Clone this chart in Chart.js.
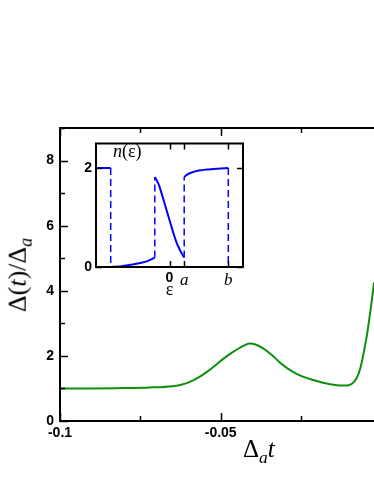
<!DOCTYPE html>
<html>
<head>
<meta charset="utf-8">
<script src="https://cdn.jsdelivr.net/npm/chart.js@4.4.1/dist/chart.umd.min.js"></script>
<style>
  html, body { margin: 0; background: #fff; overflow: hidden; }
  #wrap { position: relative; width: 374px; height: 484px; overflow: hidden; }
  canvas { position: absolute; }
  .ttl { position: absolute; font-family: "Liberation Serif", "DejaVu Serif", serif; line-height: 1; white-space: nowrap; color: #000; }
  .ttl sub { font-size: 70%; vertical-align: -0.35em; }
  #ytitle { font-size: 26px; left: 20px; top: 275px; transform: translate(-50%, -50%) rotate(-90deg); }
  #xtitle { font-size: 25px; left: 243px; top: 436px; }
  #nlabel { font-size: 18px; left: 113px; top: 142px; }
</style>
</head>
<body>
<div id="wrap">
  <canvas id="mainChart" width="374" height="484" style="left:0;top:0"></canvas>
  <canvas id="insetChart" width="187" height="170" style="left:66px;top:131px"></canvas>
  <div class="ttl" id="ytitle">Δ(<i>t</i>)/Δ<sub><i>a</i></sub></div>
  <div class="ttl" id="xtitle">Δ<sub><i>a</i></sub><i>t</i></div>
  <div class="ttl" id="nlabel"><i>n</i>(ε)</div>
</div>
<script>
// ==============================
// Data
// ==============================

// main curve: Delta(t)/Delta_a against Delta_a t
// (the original figure is cut at the right edge, just short of t = 0)
const tMin = -0.1;
const tMaxVisible = -0.0023;
const tValues = [-0.1, -0.09, -0.08, -0.072, -0.065, -0.062, -0.0596, -0.057, -0.0544, -0.0515,
    -0.0493, -0.0465, -0.044, -0.0425, -0.0409, -0.0392, -0.0368, -0.034, -0.0316, -0.029,
    -0.0264, -0.0238, -0.0212, -0.0185, -0.016, -0.0138, -0.0118, -0.0102, -0.0085, -0.0073,
    -0.0064, -0.0054, -0.0044, -0.0036, -0.0028, -0.0023, -0.0015];
const deltaValues = [1.0, 1.0, 1.01, 1.03, 1.07, 1.12, 1.2, 1.33, 1.5, 1.72,
    1.9, 2.1, 2.25, 2.33, 2.38, 2.35, 2.23, 2.02, 1.8, 1.6,
    1.45, 1.34, 1.26, 1.18, 1.13, 1.1, 1.09, 1.1, 1.2, 1.4,
    1.68, 2.15, 2.7, 3.25, 3.84, 4.26, 5.2];

// inset: occupation n(eps), solid pieces
const epsOuterLeft = [-5, -4];
const nOuterLeft = [2, 2];
const epsLow = [-4, -3.5, -3, -2.5, -2, -1.5, -1];
const nLow = [0, 0.01, 0.03, 0.05, 0.08, 0.12, 0.19];
const epsMid = [-1, -0.75, -0.5, -0.25, 0, 0.25, 0.5, 0.75, 1];
const nMid = [1.82, 1.68, 1.45, 1.2, 0.95, 0.7, 0.48, 0.32, 0.19];
const epsHigh = [1, 1.2, 1.5, 2, 2.5, 3, 3.5, 4];
const nHigh = [1.82, 1.87, 1.91, 1.95, 1.97, 1.98, 1.99, 2.0];
const epsOuterRight = [4, 5];
const nOuterRight = [0, 0];

// inset: dashed jumps at -b, -a, a, b
const jumpEps = [-4, -1, 1, 4];
const jumpFrom = [2, 0.19, 0.19, 2];
const jumpTo = [0, 1.82, 1.82, 0];

// inset tick labels
const insetXTicks = [0, 1, 4];
const insetXLabels = ["0", "a", "b"];
const insetYTicks = [0, 2];

const sansBold = { family: "'Liberation Sans', Arial, sans-serif", size: 14, weight: "bold" };
const serifItalic = { family: "'Liberation Serif', serif", size: 17, style: "italic", weight: "normal" };

Chart.defaults.color = "#000";

function toPoints(xs, ys) {
    return xs.map((x, i) => ({ x: x, y: ys[i] }));
}

// ==============================
// Frame with inward ticks
// ==============================
const framePlugin = {
    id: "frame",
    beforeDraw(chart) {
        const a = chart.chartArea;
        const ctx = chart.ctx;
        ctx.save();
        ctx.fillStyle = "#fff";
        ctx.fillRect(a.left, a.top, a.right - a.left, a.bottom - a.top);
        ctx.restore();
    },
    afterDraw(chart, args, opts) {
        const { ctx, chartArea: a, scales } = chart;
        ctx.save();
        ctx.strokeStyle = "#000";
        ctx.lineWidth = opts.tickWidth;

        scales.x.ticks.forEach(t => {
            const px = Math.round(scales.x.getPixelForValue(t.value)) + 0.5;
            const len = t.label !== "" ? opts.major : opts.minor;
            ctx.beginPath();
            ctx.moveTo(px, a.bottom); ctx.lineTo(px, a.bottom - len);
            ctx.moveTo(px, a.top); ctx.lineTo(px, a.top + len);
            ctx.stroke();
        });
        scales.y.ticks.forEach(t => {
            const py = Math.round(scales.y.getPixelForValue(t.value)) + 0.5;
            const len = t.label !== "" ? opts.major : opts.minor;
            ctx.beginPath();
            ctx.moveTo(a.left, py); ctx.lineTo(a.left + len, py);
            if (opts.rightSide) {
                ctx.moveTo(a.right, py); ctx.lineTo(a.right - len, py);
            }
            ctx.stroke();
        });

        // frame, right side only when it is inside the picture
        ctx.lineWidth = opts.frameWidth;
        ctx.beginPath();
        if (opts.rightSide) {
            ctx.rect(a.left, a.top, a.right - a.left, a.bottom - a.top);
        } else {
            ctx.moveTo(a.right + 2, a.top);
            ctx.lineTo(a.left, a.top);
            ctx.lineTo(a.left, a.bottom);
            ctx.lineTo(a.right + 2, a.bottom);
        }
        ctx.stroke();
        ctx.restore();
    }
};

// ==============================
// Main chart
// ==============================
new Chart(document.getElementById("mainChart"), {
    type: "line",
    data: {
        datasets: [{
            data: toPoints(tValues, deltaValues),
            borderColor: "#0b900b",
            borderWidth: 2,
            pointRadius: 0,
            cubicInterpolationMode: "monotone",
            fill: false
        }]
    },
    options: {
        responsive: false,
        maintainAspectRatio: false,
        animation: false,
        devicePixelRatio: 1,
        layout: { padding: { top: 128, left: 0, right: 0, bottom: 0 } },
        plugins: {
            legend: { display: false },
            tooltip: { enabled: false },
            frame: { tickWidth: 1.5, frameWidth: 2, major: 8, minor: 5, rightSide: false }
        },
        scales: {
            x: {
                type: "linear",
                min: tMin,
                max: tMaxVisible,
                grid: { display: false, drawTicks: false },
                border: { display: false },
                afterFit: s => { s.height = 63; },
                ticks: {
                    stepSize: 0.025,
                    includeBounds: false,
                    autoSkip: false,
                    maxRotation: 0,
                    padding: 4,
                    font: sansBold,
                    callback: v => {
                        const r = Math.round(v * 1000);
                        return r % 50 === 0 ? String(r / 1000) : "";
                    }
                }
            },
            y: {
                min: 0,
                max: 9,
                grid: { display: false, drawTicks: false },
                border: { display: false },
                afterFit: s => { s.width = 60; },
                ticks: {
                    stepSize: 1,
                    autoSkip: false,
                    padding: 6,
                    font: sansBold,
                    callback: v => (v % 2 === 0 && v <= 8) ? String(v) : ""
                }
            }
        }
    },
    plugins: [framePlugin]
});

// ==============================
// Inset chart n(eps)
// ==============================
const solidStyle = { borderColor: "#0000ff", borderWidth: 2, pointRadius: 0, fill: false, tension: 0.35 };
const insetSets = [
    Object.assign({ data: toPoints(epsOuterLeft, nOuterLeft) }, solidStyle),
    Object.assign({ data: toPoints(epsLow, nLow) }, solidStyle),
    Object.assign({ data: toPoints(epsMid, nMid) }, solidStyle),
    Object.assign({ data: toPoints(epsHigh, nHigh) }, solidStyle),
    Object.assign({ data: toPoints(epsOuterRight, nOuterRight) }, solidStyle)
];
jumpEps.forEach((e, i) => {
    insetSets.push({
        data: [{ x: e, y: jumpFrom[i] }, { x: e, y: jumpTo[i] }],
        borderColor: "#0000ff",
        borderWidth: 1.5,
        borderDash: [7, 4],
        pointRadius: 0,
        fill: false
    });
});

new Chart(document.getElementById("insetChart"), {
    type: "line",
    data: { datasets: insetSets },
    options: {
        responsive: false,
        maintainAspectRatio: false,
        animation: false,
        devicePixelRatio: 1,
        layout: { padding: { top: 10, right: 10, left: 0, bottom: 0 } },
        plugins: {
            legend: { display: false },
            tooltip: { enabled: false },
            frame: { tickWidth: 1.5, frameWidth: 2, major: 6, minor: 6, rightSide: true }
        },
        scales: {
            x: {
                type: "linear",
                min: -5,
                max: 5,
                grid: { display: false, drawTicks: false },
                border: { display: false },
                afterFit: s => { s.height = 34; },
                afterBuildTicks: s => { s.ticks = insetXTicks.map(v => ({ value: v })); },
                title: {
                    display: true,
                    text: "ε",
                    padding: { top: -2, bottom: 0 },
                    font: { family: "'Liberation Serif', serif", size: 18 }
                },
                ticks: {
                    autoSkip: false,
                    maxRotation: 0,
                    padding: 3,
                    callback: v => insetXLabels[insetXTicks.indexOf(v)],
                    font: c => (c.tick && c.tick.value !== 0) ? serifItalic : sansBold
                }
            },
            y: {
                min: 0,
                max: 2.5,
                grid: { display: false, drawTicks: false },
                border: { display: false },
                afterFit: s => { s.width = 30; },
                afterBuildTicks: s => { s.ticks = insetYTicks.map(v => ({ value: v })); },
                ticks: {
                    autoSkip: false,
                    padding: 4,
                    font: sansBold,
                    callback: v => String(v)
                }
            }
        }
    },
    plugins: [framePlugin]
});
</script>
</body>
</html>
